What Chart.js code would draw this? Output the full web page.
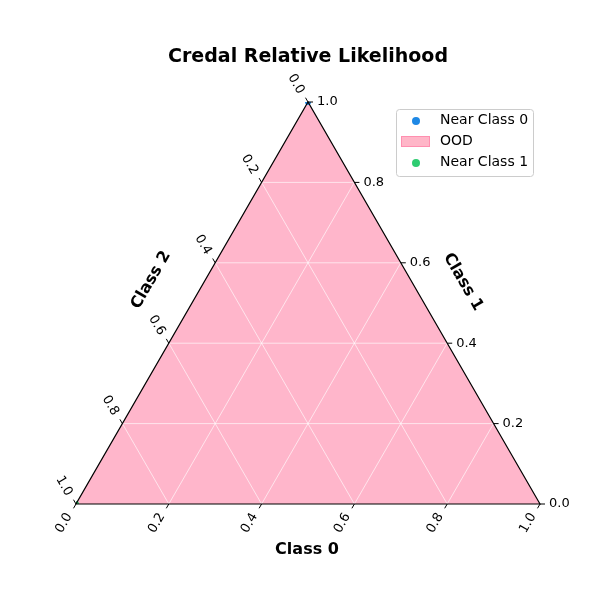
<!DOCTYPE html><html><head><script src="https://cdn.jsdelivr.net/npm/chart.js@4"></script>
<style>body{margin:0;background:#fff}</style></head><body><canvas id="c" width="600" height="600"></canvas><script>
const title="Credal Relative Likelihood";
const axisNames=["Class 0","Class 1","Class 2"];
const tickVals=[0,0.2,0.4,0.6,0.8,1.0];
const oodRegion=[[1,0,0],[0,1,0],[0,0,1],[1,0,0]];
const nearClass0=[[0,1,0]];
const nearClass1=[[0,0,1]];
const H=Math.sqrt(3)/2;
const toXY=p=>({x:p[0]+0.5*p[1],y:p[1]*H});
const tern={id:'tern',
beforeDatasetsDraw(ch){const c=ch.ctx,xs=ch.scales.x,ys=ch.scales.y;
 const d=ch.data.datasets[0].data;c.save();c.fillStyle='#ffb6cb';c.beginPath();
 d.forEach((q,i)=>{const X=xs.getPixelForValue(q.x),Y=ys.getPixelForValue(q.y);i?c.lineTo(X,Y):c.moveTo(X,Y);});
 c.closePath();c.fill();c.restore();
 const P=p=>{const q=toXY(p);return [xs.getPixelForValue(q.x),ys.getPixelForValue(q.y)];};
 c.save();c.strokeStyle='rgba(255,255,255,0.8)';c.lineWidth=0.8;
 tickVals.slice(1,-1).forEach(t=>{
  [[[t,1-t,0],[t,0,1-t]],[[1-t,t,0],[0,t,1-t]],[[1-t,0,t],[0,1-t,t]]].forEach(([a,b])=>{
   const A=P(a),B=P(b);c.beginPath();c.moveTo(...A);c.lineTo(...B);c.stroke();});
 });c.restore();
},
afterDatasetsDraw(ch){const c=ch.ctx,xs=ch.scales.x,ys=ch.scales.y;
 const P=p=>{const q=toXY(p);return [xs.getPixelForValue(q.x),ys.getPixelForValue(q.y)];};
 c.save();
 c.strokeStyle='#000';c.lineWidth=1.2;c.beginPath();
 [[1,0,0],[0,1,0],[0,0,1]].forEach((p,i)=>{const A=P(p);i?c.lineTo(...A):c.moveTo(...A);});c.closePath();c.stroke();
 c.fillStyle='#000';c.font='13px "DejaVu Sans"';c.lineWidth=1;
 tickVals.forEach(t=>{const lab=t.toFixed(1);
  let [x,y]=P([t,0,1-t]);c.beginPath();c.moveTo(x,y);c.lineTo(x-2.5,y+4.3);c.stroke();
  c.save();c.translate(x-12,y+19);c.rotate(-Math.PI/3);c.textAlign='center';c.textBaseline='middle';c.fillText(lab,0,0);c.restore();
  [x,y]=P([1-t,t,0]);c.beginPath();c.moveTo(x,y);c.lineTo(x+5,y);c.stroke();
  c.textAlign='left';c.textBaseline='middle';c.fillText(lab,x+9,y);
  [x,y]=P([0,1-t,t]);c.beginPath();c.moveTo(x,y);c.lineTo(x-2.5,y-4.3);c.stroke();
  c.save();c.translate(x-12,y-18);c.rotate(Math.PI/3);c.textAlign='center';c.textBaseline='middle';c.fillText(lab,0,0);c.restore();
 });
 c.font='bold 16px "DejaVu Sans"';c.textAlign='center';c.textBaseline='middle';
 c.fillText(axisNames[0],307,550);
 c.save();c.translate(463,282);c.rotate(Math.PI/3);c.fillText(axisNames[1],0,0);c.restore();
 c.save();c.translate(151,280);c.rotate(-Math.PI/3);c.fillText(axisNames[2],0,0);c.restore();
 c.font='bold 19px "DejaVu Sans"';c.fillText(title,308,57);
 c.fillStyle='rgba(255,255,255,0.85)';c.strokeStyle='#ccc';c.lineWidth=1;
 c.beginPath();c.roundRect(396.5,109.5,137,67,3);c.fill();c.stroke();
 c.fillStyle='#1e88e5';c.beginPath();c.arc(416,121,4,0,7);c.fill();
 c.fillStyle='#ffb6c8';c.strokeStyle='#ff8fb0';c.fillRect(401.5,136.5,28,10);c.strokeRect(401.5,136.5,28,10);
 c.fillStyle='#2ecc71';c.beginPath();c.arc(416,163,4,0,7);c.fill();
 c.fillStyle='#000';c.font='14px "DejaVu Sans"';c.textAlign='left';
 c.fillText('Near Class 0',440,120);c.fillText('OOD',440,141);c.fillText('Near Class 1',440,162);
 c.restore();
}};
new Chart(document.getElementById('c'),{type:'scatter',
data:{datasets:[
 {label:'OOD',data:oodRegion.map(toXY),showLine:false,pointRadius:0,order:3},
 {label:'Near Class 0',data:nearClass0.map(toXY),backgroundColor:'#1e88e5',borderWidth:0,pointRadius:3,order:1},
 {label:'Near Class 1',data:nearClass1.map(toXY),backgroundColor:'#2ecc71',borderWidth:0,pointRadius:3,order:1}
]},
options:{responsive:false,animation:false,layout:{padding:{left:76,right:60,top:102,bottom:96}},
 plugins:{legend:{display:false},tooltip:{enabled:false}},
 scales:{x:{type:'linear',min:0,max:1,display:false},y:{type:'linear',min:0,max:H,display:false}}},
plugins:[tern]});
</script></body></html>
